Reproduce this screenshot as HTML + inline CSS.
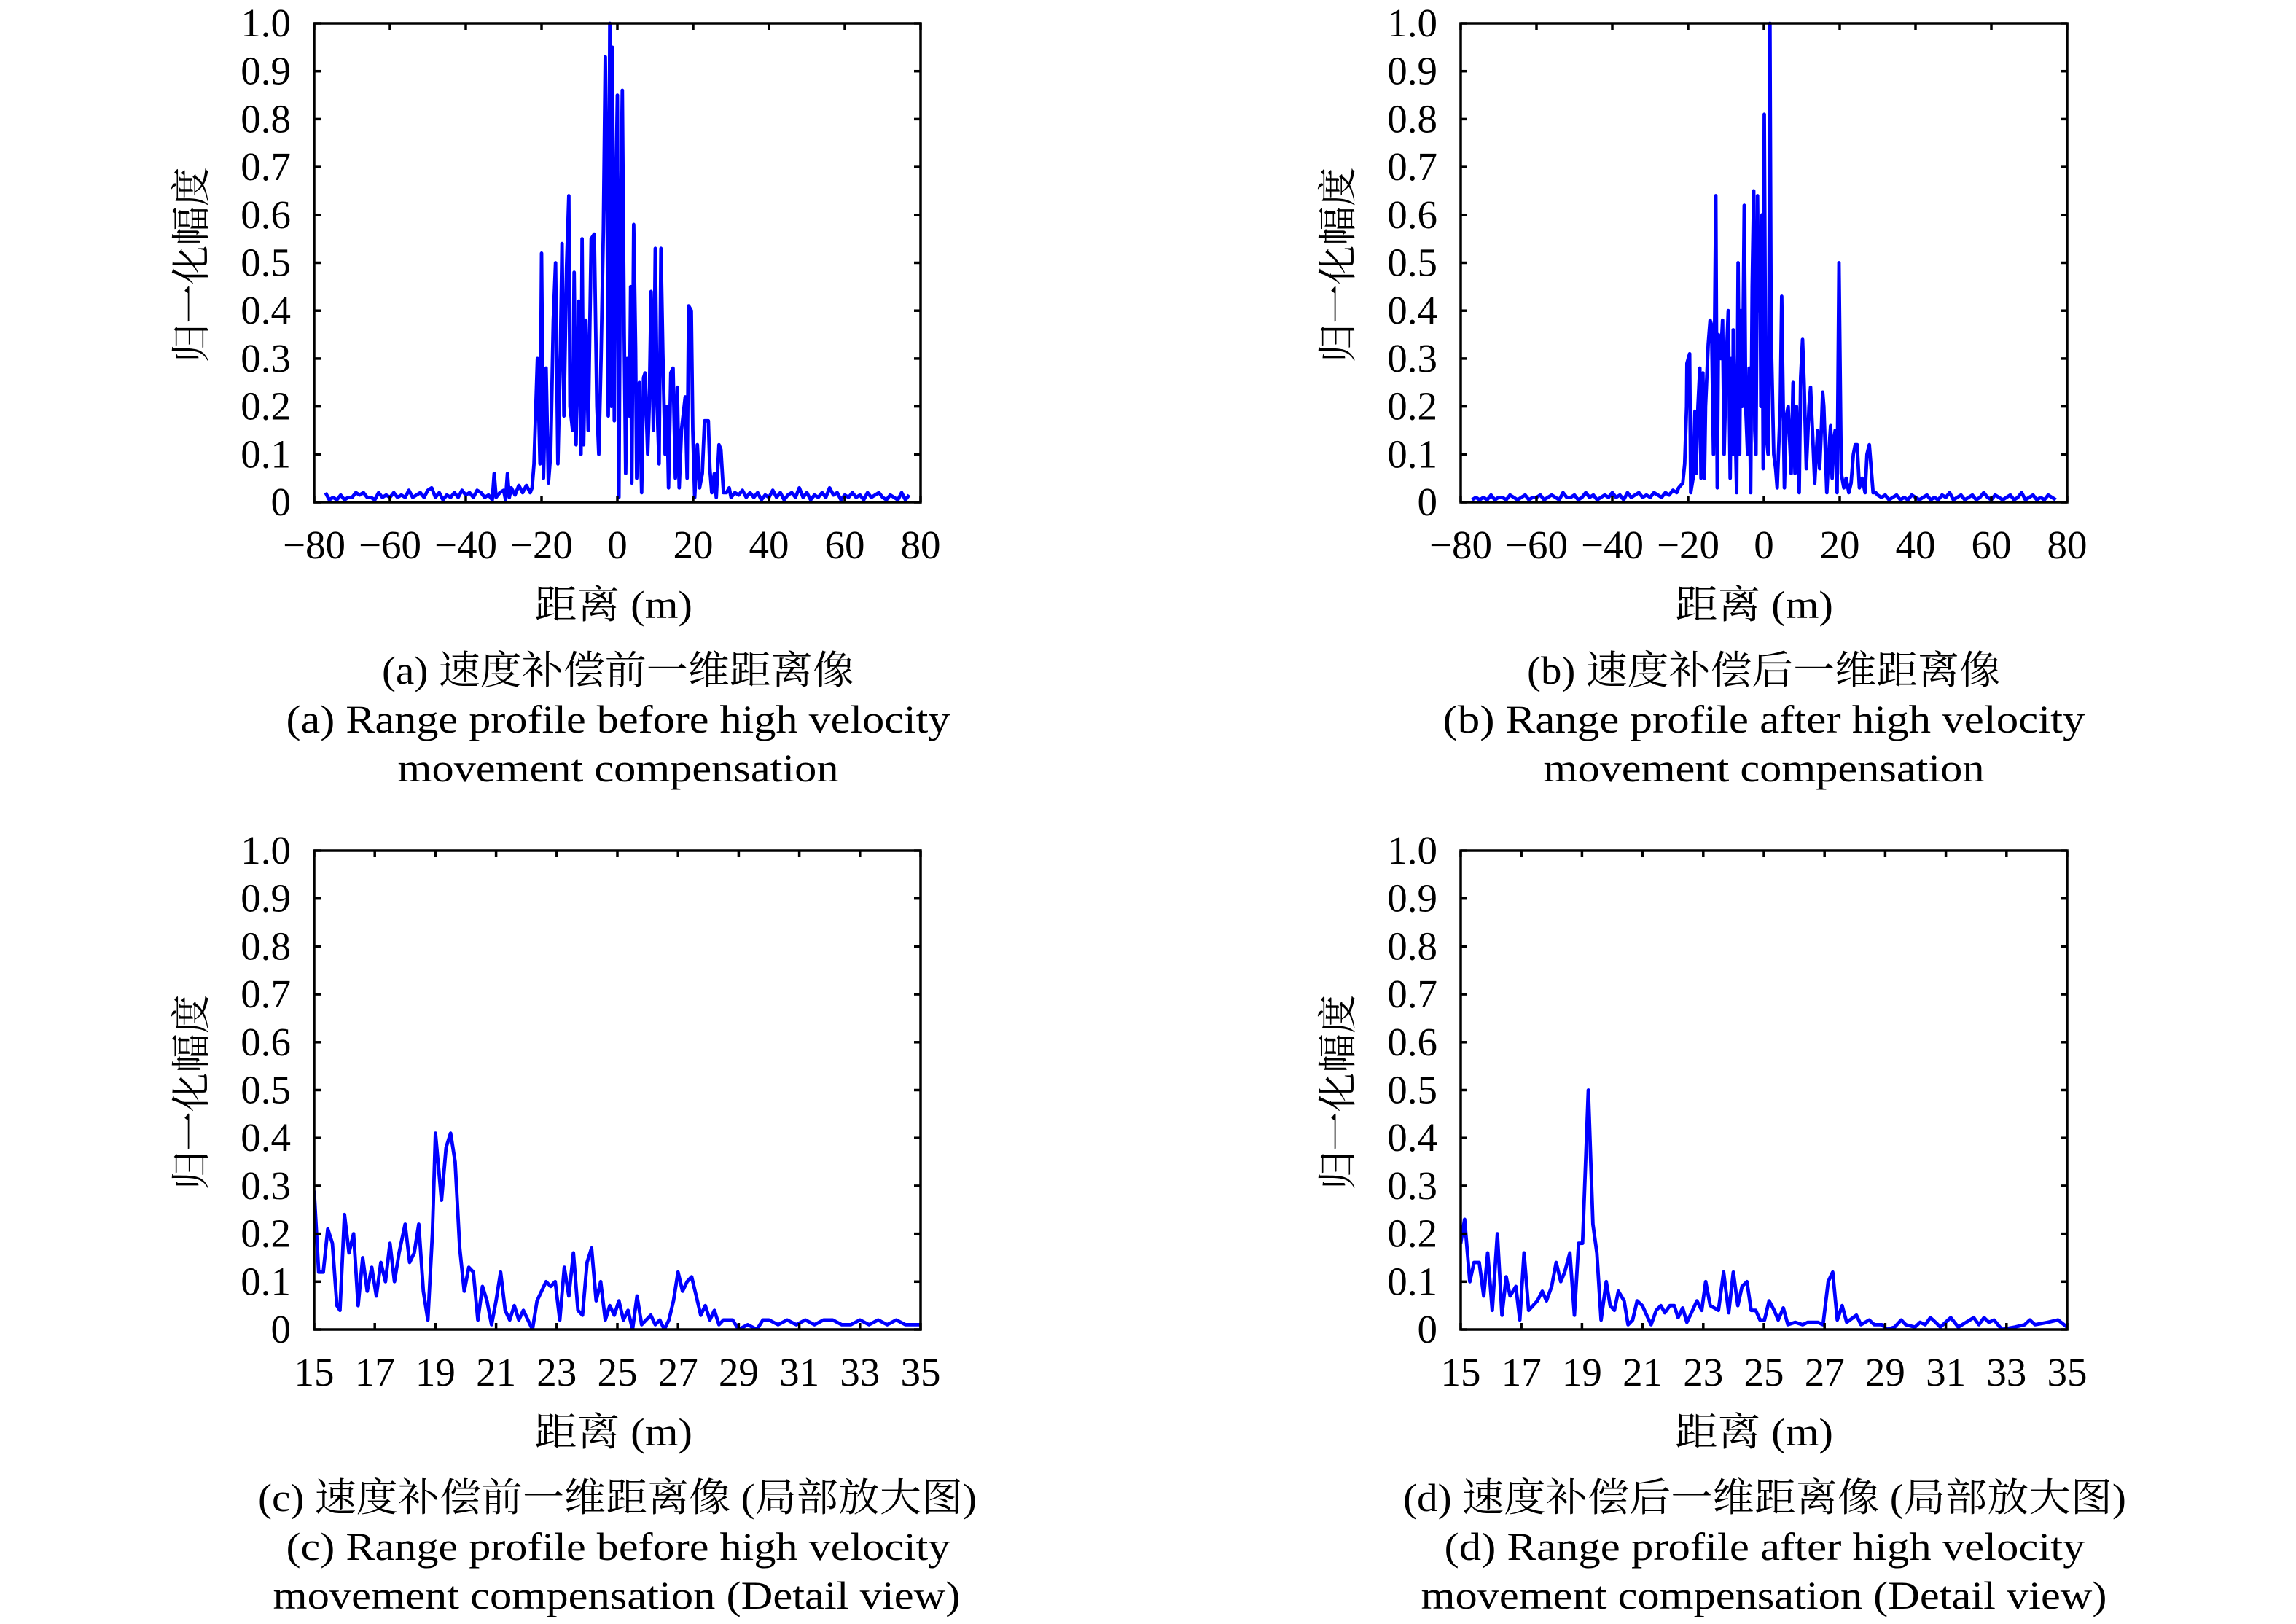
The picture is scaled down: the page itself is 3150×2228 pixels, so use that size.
<!DOCTYPE html>
<html><head><meta charset="utf-8"><title>Range profiles</title>
<style>
html,body{margin:0;padding:0;background:#fff;}
svg{display:block;}
text{font-family:"Liberation Serif","Noto Serif CJK SC",serif;fill:#000;}
</style></head>
<body>
<svg id="fig" width="3150" height="2228" viewBox="0 0 3150 2228" xmlns="http://www.w3.org/2000/svg"></svg>
<script>
// ---------- data ----------
// Panel (a): before compensation
const aX = [-77,-76,-75,-74,-73,-72,-71,-70,-69,-68,-67,-66,-65,-64,-63,-62,-61,-60,-59,-58,-57,-56,-55,-54,-53,-52,-51,-50,-49,-48,-47,-46,-45,-44,-43,-42,-41,-40,-39,-38,-37,-36,-35,-34,-33,-32.5,-32,-31,-30,-29.5,-29,-28.5,-28,-27,-26,-25,-24,-23,-22.5,
-22.0,-21.1,-20.4,-20.0,-19.5,-18.8,-18.2,-17.6,-16.9,-16.3,-15.7,-15.0,-14.6,-14.1,-13.4,-12.8,-12.5,-11.8,-11.4,-10.9,-10.2,-9.6,-9.3,-8.9,-8.3,-7.7,-6.9,-6.1,-5.4,-4.9,-4.3,-3.7,-3.2,-2.7,-2.4,-2.0,-1.6,-1.3,-0.8,-0.5,0,0.4,0.8,1.3,1.8,2.2,2.6,3.2,3.5,3.8,4.3,4.8,5.1,5.8,6.4,6.9,7.3,8.0,8.4,8.9,9.5,10.0,10.5,11.0,11.5,12.0,12.6,13.1,13.5,14.1,14.7,15.3,15.8,16.3,16.9,17.9,18.4,18.8,19.5,19.9,20.4,21.1,21.7,22.4,23.0,24.0,24.4,24.9,25.6,26.1,26.8,27.3,28.0,28.8,
29.5,30,31,32,33,34,35,36,37,38,39,40,41,42,43,44,45,46,47,48,49,50,51,52,53,54,55,56,57,58,59,60,61,62,63,64,65,66,67,68,69,70,71,72,73,74,75,76,77];
const aY = [0.02,0.005,0.01,0.005,0.015,0.005,0.01,0.01,0.02,0.015,0.02,0.01,0.01,0.005,0.02,0.01,0.015,0.01,0.02,0.01,0.015,0.01,0.025,0.01,0.015,0.02,0.01,0.025,0.03,0.01,0.02,0.005,0.015,0.01,0.02,0.01,0.025,0.015,0.02,0.01,0.025,0.02,0.01,0.015,0.005,0.06,0.01,0.02,0.025,0.005,0.06,0.01,0.03,0.015,0.035,0.02,0.035,0.02,0.03,
0.08,0.30,0.08,0.52,0.05,0.28,0.04,0.10,0.38,0.50,0.08,0.33,0.54,0.18,0.49,0.64,0.20,0.15,0.48,0.12,0.42,0.10,0.55,0.12,0.38,0.15,0.55,0.56,0.20,0.10,0.30,0.57,0.93,0.60,0.18,1.00,0.20,0.95,0.17,0.57,0.85,0.01,0.55,0.86,0.35,0.06,0.30,0.18,0.45,0.04,0.58,0.32,0.05,0.25,0.02,0.26,0.27,0.10,0.20,0.44,0.15,0.53,0.20,0.08,0.53,0.31,0.10,0.20,0.03,0.27,0.28,0.05,0.24,0.03,0.15,0.22,0.05,0.41,0.40,0.15,0.01,0.12,0.03,0.06,0.17,0.17,0.07,0.02,0.06,0.01,0.12,0.11,0.02,0.02,
0.03,0.01,0.02,0.015,0.025,0.01,0.02,0.01,0.02,0.005,0.015,0.01,0.025,0.01,0.02,0.005,0.015,0.02,0.01,0.03,0.01,0.02,0.005,0.015,0.01,0.02,0.01,0.03,0.015,0.02,0.005,0.015,0.01,0.02,0.01,0.015,0.005,0.02,0.01,0.015,0.02,0.01,0.005,0.015,0.01,0.005,0.02,0.005,0.015];

// Panel (b): after compensation
const bX = [-77,-76,-75,-74,-73,-72,-71,-70,-69,-68,-67,-66,-65,-64,-63,-62,-61,-60,-59,-58,-57,-56,-55,-54,-53,-52,-51,-50,-49,-48,-47,-46,-45,-44,-43,-42,-41,-40,-39,-38,-37,-36,-35,-34,-33,-32,-31,-30,-29,-28,-27,-26,-25,-24,-23,-22.5,
-21.4,-20.9,-20.4,-20.3,-19.6,-19.3,-18.7,-18.2,-17.9,-17.4,-16.9,-16.6,-16.1,-15.7,-15.4,-14.7,-14.2,-13.8,-13.3,-12.7,-12.3,-12.0,-11.7,-11.4,-10.9,-10.5,-9.9,-9.4,-8.9,-8.6,-8.2,-8.1,-7.2,-6.8,-6.4,-6.1,-5.7,-5.2,-4.8,-4.3,-3.9,-3.5,-3.1,-2.7,-2.4,-2.1,-1.7,-1.4,-1.0,-0.8,-0.5,-0.2,0.1,0.5,1.1,1.3,1.6,1.9,2.6,3.1,3.5,4.3,4.7,5.0,5.4,5.9,6.4,7.2,7.7,8.2,8.6,9.3,9.7,10.2,10.6,11.2,11.9,12.3,12.8,13.4,13.8,14.2,14.7,15.2,15.5,15.8,16.6,17.1,17.6,18.0,18.4,18.8,19.3,19.8,20.4,21.1,21.7,22.4,23.0,23.6,24.1,24.6,25.2,25.9,26.7,27.2,27.8,28.8,
29.5,30,31,32,33,34,35,36,37,38,39,40,41,42,43,44,45,46,47,48,49,50,51,52,53,54,55,56,57,58,59,60,61,62,63,64,65,66,67,68,69,70,71,72,73,74,75,76,77];
const bY = [0.005,0.01,0.005,0.01,0.005,0.015,0.005,0.01,0.01,0.005,0.015,0.01,0.005,0.01,0.015,0.005,0.01,0.01,0.015,0.005,0.01,0.015,0.01,0.005,0.02,0.01,0.01,0.015,0.005,0.01,0.02,0.01,0.015,0.005,0.01,0.015,0.01,0.02,0.01,0.015,0.005,0.02,0.01,0.015,0.02,0.01,0.015,0.01,0.02,0.015,0.01,0.02,0.015,0.025,0.02,0.03,
0.04,0.08,0.20,0.29,0.31,0.02,0.05,0.19,0.06,0.20,0.28,0.05,0.27,0.05,0.20,0.33,0.38,0.37,0.10,0.64,0.03,0.35,0.33,0.30,0.38,0.10,0.30,0.40,0.05,0.30,0.10,0.36,0.02,0.50,0.10,0.40,0.20,0.62,0.20,0.10,0.28,0.02,0.45,0.65,0.15,0.10,0.64,0.40,0.50,0.20,0.60,0.07,0.81,0.15,0.10,0.35,1.00,0.35,0.10,0.07,0.03,0.20,0.43,0.25,0.03,0.18,0.20,0.06,0.25,0.06,0.20,0.02,0.26,0.34,0.25,0.07,0.20,0.24,0.15,0.04,0.10,0.15,0.07,0.16,0.23,0.20,0.02,0.10,0.16,0.05,0.13,0.15,0.02,0.50,0.06,0.03,0.05,0.02,0.04,0.10,0.12,0.12,0.03,0.05,0.02,0.10,0.12,0.02,0.02,
0.015,0.01,0.015,0.005,0.01,0.015,0.005,0.01,0.005,0.015,0.01,0.005,0.01,0.015,0.005,0.01,0.005,0.015,0.01,0.02,0.005,0.01,0.015,0.005,0.01,0.015,0.005,0.01,0.02,0.01,0.005,0.015,0.01,0.005,0.01,0.015,0.005,0.01,0.02,0.005,0.01,0.015,0.005,0.01,0.005,0.015,0.01,0.005,0.01];

// Panel (c): before compensation, detail
const cX = [15.0,15.15,15.3,15.45,15.6,15.75,15.85,16.0,16.15,16.3,16.45,16.6,16.75,16.9,17.05,17.2,17.35,17.5,17.65,17.8,18.0,18.15,18.3,18.45,18.6,18.75,18.9,19.0,19.2,19.35,19.5,19.65,19.8,19.95,20.1,20.25,20.4,20.55,20.7,20.85,21.0,21.15,21.3,21.45,21.6,21.75,21.9,22.05,22.2,22.35,22.5,22.65,22.8,22.95,23.1,23.25,23.4,23.55,23.7,23.85,24.0,24.15,24.3,24.45,24.6,24.75,24.9,25.05,25.2,25.35,25.5,25.65,25.8,25.95,26.1,26.25,26.4,26.55,26.7,26.85,27.0,27.15,27.3,27.45,27.6,27.75,27.9,28.05,28.2,28.35,28.5,28.65,28.8,29.0,29.3,29.6,29.8,30.0,30.3,30.6,30.9,31.2,31.5,31.8,32.1,32.4,32.7,33.0,33.3,33.6,33.9,34.2,34.5,34.8,35.0];
const cY = [0.29,0.12,0.12,0.21,0.18,0.05,0.04,0.24,0.16,0.20,0.05,0.15,0.08,0.13,0.07,0.14,0.10,0.18,0.10,0.16,0.22,0.14,0.16,0.22,0.08,0.02,0.20,0.41,0.27,0.38,0.41,0.35,0.17,0.08,0.13,0.12,0.02,0.09,0.06,0.01,0.06,0.12,0.04,0.02,0.05,0.02,0.04,0.02,0.00,0.06,0.08,0.10,0.09,0.10,0.02,0.13,0.07,0.16,0.04,0.03,0.14,0.17,0.06,0.10,0.02,0.05,0.03,0.06,0.02,0.04,0.00,0.07,0.01,0.02,0.03,0.01,0.02,0.00,0.02,0.06,0.12,0.08,0.10,0.11,0.07,0.03,0.05,0.02,0.04,0.01,0.02,0.02,0.02,0.00,0.01,0.00,0.02,0.02,0.01,0.02,0.01,0.02,0.01,0.02,0.02,0.01,0.01,0.02,0.01,0.02,0.01,0.02,0.01,0.01,0.01];

// Panel (d): after compensation, detail
const dX = [15.00,15.13,15.30,15.44,15.61,15.76,15.89,16.04,16.21,16.36,16.50,16.63,16.82,16.95,17.09,17.24,17.53,17.69,17.83,18.00,18.15,18.30,18.43,18.60,18.75,18.89,19.02,19.21,19.36,19.49,19.63,19.80,19.93,20.07,20.20,20.39,20.52,20.67,20.82,20.99,21.28,21.45,21.60,21.73,21.90,22.04,22.17,22.32,22.46,22.61,22.79,22.95,23.08,23.23,23.50,23.67,23.84,23.99,24.14,24.28,24.44,24.58,24.73,24.87,25.02,25.17,25.34,25.47,25.64,25.79,26.03,26.28,26.45,26.78,26.95,27.12,27.27,27.42,27.58,27.73,28.05,28.20,28.47,28.64,28.89,29.06,29.31,29.53,29.68,29.98,30.15,30.32,30.49,30.66,30.82,31.16,31.41,31.67,31.92,32.09,32.26,32.42,32.59,32.85,33.27,33.60,33.77,33.94,34.36,34.70,35.00];
const dY = [0.18,0.23,0.10,0.14,0.14,0.07,0.16,0.04,0.20,0.03,0.11,0.07,0.09,0.02,0.16,0.04,0.06,0.08,0.06,0.09,0.14,0.10,0.12,0.16,0.03,0.18,0.18,0.50,0.22,0.16,0.02,0.10,0.05,0.04,0.08,0.06,0.01,0.02,0.06,0.05,0.01,0.04,0.05,0.035,0.05,0.05,0.025,0.045,0.015,0.035,0.06,0.04,0.10,0.05,0.04,0.12,0.035,0.12,0.05,0.09,0.10,0.04,0.04,0.02,0.02,0.06,0.04,0.02,0.045,0.01,0.015,0.01,0.015,0.015,0.01,0.10,0.12,0.02,0.05,0.015,0.03,0.01,0.02,0.01,0.01,0.00,0.005,0.02,0.01,0.005,0.015,0.01,0.025,0.015,0.005,0.025,0.005,0.015,0.025,0.01,0.025,0.015,0.02,0.00,0.005,0.01,0.02,0.01,0.015,0.02,0.005];

const wideTicks = ["−80","−60","−40","−20","0","20","40","60","80"];
const wideTickVals = [-80,-60,-40,-20,0,20,40,60,80];
const zoomTickVals = [15,17,19,21,23,25,27,29,31,33,35];
const yTickVals = [0,0.1,0.2,0.3,0.4,0.5,0.6,0.7,0.8,0.9,1.0];
const yTickLabels = ["0","0.1","0.2","0.3","0.4","0.5","0.6","0.7","0.8","0.9","1.0"];

// ---------- drawing ----------
const NS = "http://www.w3.org/2000/svg";
const svg = document.getElementById('fig');
function mk(tag, attrs, parent){
  const e = document.createElementNS(NS, tag);
  for (const k in attrs) e.setAttribute(k, attrs[k]);
  (parent||svg).appendChild(e);
  return e;
}
const W = 832, H = 657;
function panel(opt){
  const g = mk('g', {});
  
  
  const L = opt.left, T = opt.top;
  const sx = v => L + (v - opt.xmin) / (opt.xmax - opt.xmin) * W;
  const sy = v => T + H - v * H;
  let d = '';
  for (let i = 0; i < opt.xs.length; i++) d += (i ? 'L' : 'M') + sx(opt.xs[i]).toFixed(1) + ',' + sy(opt.ys[i]).toFixed(1);
  const clipId = 'clip-' + opt.name;
  const cp = mk('clipPath', {id: clipId}, g);
  mk('rect', {x: L, y: T - 3, width: W, height: H + 3}, cp);
  const line = mk('path', {d: d, fill: 'none', stroke: '#0000ff', 'stroke-width': 4.8, 'stroke-linejoin': 'round', 'clip-path': 'url(#' + clipId + ')'}, g);
  
  
  const fr = mk('rect', {x: L, y: T, width: W, height: H, fill: 'none', stroke: '#000', 'stroke-width': 3.5}, g);
  
  
  yTickVals.forEach((v, i) => {
    const y = sy(v);
    mk('line', {x1: L, x2: L + 9, y1: y, y2: y, stroke: '#000', 'stroke-width': 3.5}, g);
    mk('line', {x1: L + W - 9, x2: L + W, y1: y, y2: y, stroke: '#000', 'stroke-width': 3.5}, g);
    const t = mk('text', {x: L - 32, y: y + 18, 'text-anchor': 'end', 'font-size': 55}, g);
    
    
    t.textContent = yTickLabels[i];
  });
  opt.xticks.forEach((v, i) => {
    const x = sx(v);
    mk('line', {x1: x, x2: x, y1: T + H, y2: T + H - 9, stroke: '#000', 'stroke-width': 3.5}, g);
    mk('line', {x1: x, x2: x, y1: T, y2: T + 9, stroke: '#000', 'stroke-width': 3.5}, g);
    const t = mk('text', {x: x, y: T + H + 77, 'text-anchor': 'middle', 'font-size': 55}, g);
    
    
    t.textContent = opt.xlabels[i];
  });
  const cx = L + W / 2;
  const xl = mk('text', {x: cx - 108 + opt.axShift, y: T + H + 159, 'font-size': 54, textLength: 217, lengthAdjust: 'spacingAndGlyphs'}, g);
  
  
  xl.textContent = '距离 (m)';
  const yl = mk('text', {x: -134, y: 0, 'font-size': 54, transform: 'translate(' + (L - 150) + ',' + (T + H / 2 + 3) + ') rotate(-90)', textLength: 268, lengthAdjust: 'spacingAndGlyphs'}, g);
  
  
  yl.textContent = '归一化幅度';
  opt.caps.forEach((c, i) => {
    const t = mk('text', {x: c.cx - c.w / 2 + opt.capShift, y: T + H + 249 + i * 67, 'font-size': 54, textLength: c.w, lengthAdjust: 'spacingAndGlyphs'}, g);
    
    
    t.textContent = c.t;
  });
}

panel({name: 'panel-a', left: 431, top: 32, xmin: -80, xmax: 80, xs: aX, ys: aY, xticks: wideTickVals, xlabels: wideTicks, capShift: -6, axShift: -6,
  caps: [{t: '(a) 速度补偿前一维距离像', cx: 854, w: 648}, {t: '(a) Range profile before high velocity', cx: 854, w: 911}, {t: 'movement compensation', cx: 854, w: 605}]});
panel({name: 'panel-b', left: 2004, top: 32, xmin: -80, xmax: 80, xs: bX, ys: bY, xticks: wideTickVals, xlabels: wideTicks, capShift: -18, axShift: -14,
  caps: [{t: '(b) 速度补偿后一维距离像', cx: 2438, w: 650}, {t: '(b) Range profile after high velocity', cx: 2438, w: 881}, {t: 'movement compensation', cx: 2438, w: 605}]});
panel({name: 'panel-c', left: 431, top: 1167, xmin: 15, xmax: 35, xs: cX, ys: cY, xticks: zoomTickVals, xlabels: zoomTickVals.map(String), capShift: -6, axShift: -6,
  caps: [{t: '(c) 速度补偿前一维距离像 (局部放大图)', cx: 853, w: 986}, {t: '(c) Range profile before high velocity', cx: 854, w: 911}, {t: 'movement compensation (Detail view)', cx: 852, w: 943}]});
panel({name: 'panel-d', left: 2004, top: 1167, xmin: 15, xmax: 35, xs: dX, ys: dY, xticks: zoomTickVals, xlabels: zoomTickVals.map(String), capShift: -18, axShift: -14,
  caps: [{t: '(d) 速度补偿后一维距离像 (局部放大图)', cx: 2439, w: 992}, {t: '(d) Range profile after high velocity', cx: 2439, w: 879}, {t: 'movement compensation (Detail view)', cx: 2438, w: 941}]});
</script>
</body></html>
